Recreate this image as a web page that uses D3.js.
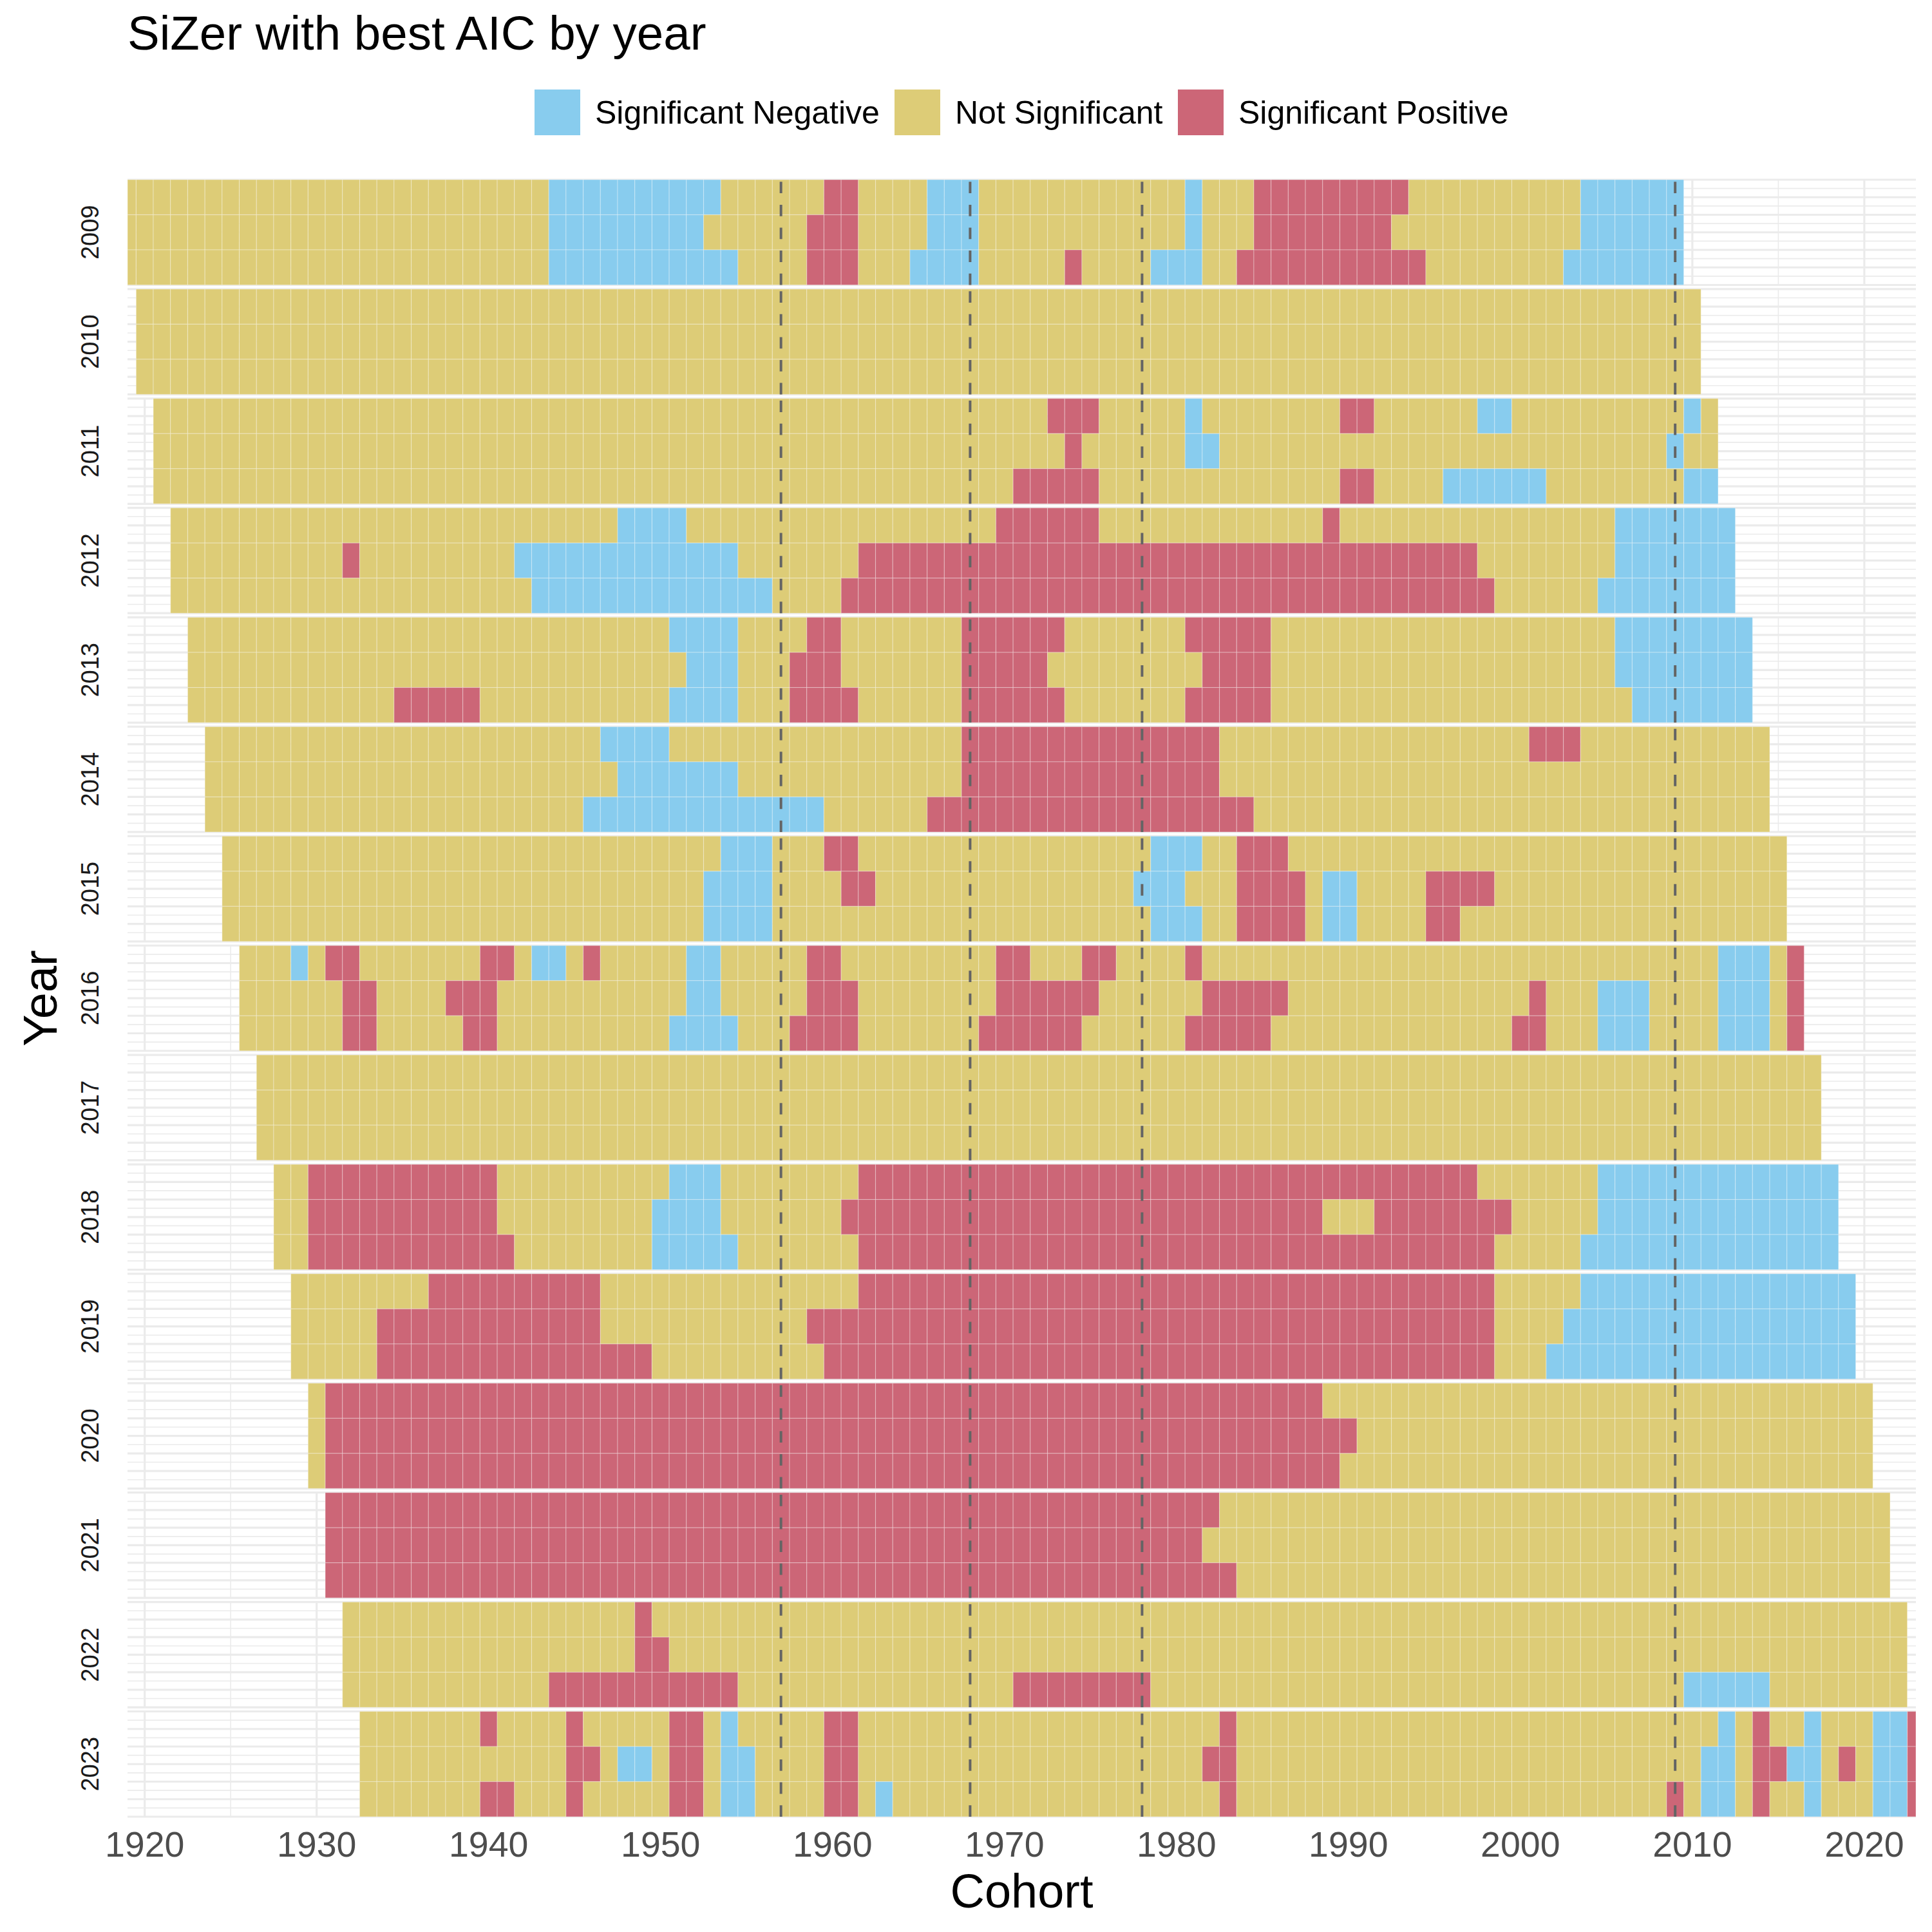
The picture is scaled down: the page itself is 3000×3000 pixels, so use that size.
<!DOCTYPE html>
<html>
<head>
<meta charset="utf-8">
<script src="https://cdn.jsdelivr.net/npm/d3@7"></script>
<style>
  body { margin: 0; background: #ffffff; }
  svg text { font-family: "Liberation Sans", Arial, Helvetica, sans-serif; }
</style>
</head>
<body>
<svg id="chart" width="3000" height="3000" xmlns="http://www.w3.org/2000/svg"></svg>
<script>
// ---------------- DATA ----------------
const years = [2009, 2010, 2011, 2012, 2013, 2014, 2015, 2016, 2017, 2018, 2019, 2020, 2021, 2022, 2023];
const cohortSpan = 90;                 // each year covers cohorts (year-90) .. year
const cohortDomain = [1919, 2023];
const xTicks = [1920, 1930, 1940, 1950, 1960, 1970, 1980, 1990, 2000, 2010, 2020];
const markerCohorts = [1957, 1968, 1978, 2009];

const statusCodes  = ["n", "o", "p"];
const statusLabels = ["Significant Negative", "Not Significant", "Significant Positive"];
const statusColors = ["#88CCEE", "#DDCC77", "#CC6677"];

// Each row: runs "code+lastCohort" (n = negative, o = not significant, p = positive),
// starting at cohort year-90; rows listed top to bottom.
const sizer2009 = [
  "o1943 n1953 o1959 p1961 o1965 n1968 o1980 n1981 o1984 p1993 o2003 n2009",
  "o1943 n1952 o1958 p1961 o1965 n1968 o1980 n1981 o1984 p1992 o2003 n2009",
  "o1943 n1954 o1958 p1961 o1964 n1968 o1973 p1974 o1978 n1981 o1983 p1994 o2002 n2009"
];
const sizer2010 = ["o2010", "o2010", "o2010"];
const sizer2011 = [
  "o1972 p1975 o1980 n1981 o1989 p1991 o1997 n1999 o2009 n2010 o2011",
  "o1973 p1974 o1980 n1982 o2008 n2009 o2011",
  "o1970 p1975 o1989 p1991 o1995 n2001 o2009 n2011"
];
const sizer2012 = [
  "o1947 n1951 o1969 p1975 o1988 p1989 o2005 n2012",
  "o1931 p1932 o1941 n1954 o1961 p1997 o2005 n2012",
  "o1942 n1956 o1960 p1998 o2004 n2012"
];
const sizer2013 = [
  "o1950 n1954 o1958 p1960 o1967 p1973 o1980 p1985 o2005 n2013",
  "o1951 n1954 o1957 p1960 o1967 p1972 o1981 p1985 o2005 n2013",
  "o1934 p1939 o1950 n1954 o1957 p1961 o1967 p1973 o1980 p1985 o2006 n2013"
];
const sizer2014 = [
  "o1946 n1950 o1967 p1982 o2000 p2003 o2014",
  "o1947 n1954 o1967 p1982 o2014",
  "o1945 n1959 o1965 p1984 o2014"
];
const sizer2015 = [
  "o1953 n1956 o1959 p1961 o1978 n1981 o1983 p1986 o2015",
  "o1952 n1956 o1960 p1962 o1977 n1980 o1983 p1987 o1988 n1990 o1994 p1998 o2015",
  "o1952 n1956 o1978 n1981 o1983 p1987 o1988 n1990 o1994 p1996 o2015"
];
const sizer2016 = [
  "o1928 n1929 o1930 p1932 o1939 p1941 o1942 n1944 o1945 p1946 o1951 n1953 o1958 p1960 o1969 p1971 o1974 p1976 o1980 p1981 o2011 n2014 o2015 p2016",
  "o1931 p1933 o1937 p1940 o1951 n1953 o1958 p1961 o1969 p1975 o1981 p1986 o2000 p2001 o2004 n2007 o2011 n2014 o2015 p2016",
  "o1931 p1933 o1938 p1940 o1950 n1954 o1957 p1961 o1968 p1974 o1980 p1985 o1999 p2001 o2004 n2007 o2011 n2014 o2015 p2016"
];
const sizer2017 = ["o2017", "o2017", "o2017"];
const sizer2018 = [
  "o1929 p1940 o1950 n1953 o1961 p1997 o2004 n2018",
  "o1929 p1940 o1949 n1953 o1960 p1988 o1991 p1999 o2004 n2018",
  "o1929 p1941 o1949 n1954 o1961 p1998 o2003 n2018"
];
const sizer2019 = [
  "o1936 p1946 o1961 p1998 o2003 n2019",
  "o1933 p1946 o1958 p1998 o2002 n2019",
  "o1933 p1949 o1959 p1998 o2001 n2019"
];
const sizer2020 = [
  "o1930 p1988 o2020",
  "o1930 p1990 o2020",
  "o1930 p1989 o2020"
];
const sizer2021 = [
  "p1982 o2021",
  "p1981 o2021",
  "p1983 o2021"
];
const sizer2022 = [
  "o1948 p1949 o2022",
  "o1948 p1950 o2022",
  "o1943 p1954 o1970 p1978 o2009 n2014 o2022"
];
const sizer2023 = [
  "o1939 p1940 o1944 p1945 o1950 p1952 o1953 n1954 o1959 p1961 o1982 p1983 o2011 n2012 o2013 p2014 o2016 n2017 o2020 n2022 p2023",
  "o1944 p1946 o1947 n1949 o1950 p1952 o1953 n1955 o1959 p1961 o1981 p1983 o2010 n2012 o2013 p2015 n2017 o2018 p2019 o2020 n2022 p2023",
  "o1939 p1941 o1944 p1945 o1950 p1952 o1953 n1955 o1959 p1961 o1962 n1963 o1982 p1983 o2008 p2009 o2010 n2012 o2013 p2014 o2016 n2017 o2020 n2022 p2023"
];
const sizerRows = [sizer2009, sizer2010, sizer2011, sizer2012, sizer2013, sizer2014, sizer2015,
  sizer2016, sizer2017, sizer2018, sizer2019, sizer2020, sizer2021, sizer2022, sizer2023];

// ---------------- decode runs into one record per tile ----------------
const tiles = [];
years.forEach((yr, yi) => {
  sizerRows[yi].forEach((rowStr, ri) => {
    let c = yr - cohortSpan;
    rowStr.trim().split(/\s+/).forEach(tok => {
      const code = tok[0], last = +tok.slice(1);
      for (; c <= last; c++) tiles.push({ year: yr, row: ri, cohort: c, status: code });
    });
  });
});

// ---------------- LAYOUT ----------------
const svg = d3.select("#chart");
svg.append("rect").attr("width", 3000).attr("height", 3000).attr("fill", "#ffffff");

const font = "'Liberation Sans', Arial, Helvetica, sans-serif";
const x = d3.scaleLinear().domain(cohortDomain).range([198, 2975]);
const facetY = d3.scaleBand().domain(years).range([279, 2821]).paddingInner(0.0377);
const rowY = d3.scaleBand().domain([0, 1, 2]).range([0, facetY.bandwidth()]);
const color = d3.scaleOrdinal().domain(statusCodes).range(statusColors);
const label = d3.scaleOrdinal().domain(statusCodes).range(statusLabels);

const gridColor = "#ebebeb";
const xMinor = d3.range(1925, 2023, 10);

const panels = svg.append("g").selectAll("g.panel")
  .data(years).join("g")
  .attr("class", "panel")
  .attr("transform", d => `translate(0,${facetY(d)})`);

const h = facetY.bandwidth();
const hMajor = d3.range(0, 7).map(k => k * h / 6);
const hMinor = d3.range(0, 6).map(k => (k + 0.5) * h / 6);

// gridlines
panels.each(function () {
  const g = d3.select(this);
  g.selectAll("line.hmin").data(hMinor).join("line")
    .attr("x1", x.range()[0]).attr("x2", x.range()[1])
    .attr("y1", d => d).attr("y2", d => d)
    .attr("stroke", gridColor).attr("stroke-width", 1.6);
  g.selectAll("line.hmaj").data(hMajor).join("line")
    .attr("x1", x.range()[0]).attr("x2", x.range()[1])
    .attr("y1", d => d).attr("y2", d => d)
    .attr("stroke", gridColor).attr("stroke-width", 3.2);
  g.selectAll("line.vmin").data(xMinor).join("line")
    .attr("x1", d => x(d)).attr("x2", d => x(d))
    .attr("y1", 0).attr("y2", h)
    .attr("stroke", gridColor).attr("stroke-width", 1.6);
  g.selectAll("line.vmaj").data(xTicks).join("line")
    .attr("x1", d => x(d)).attr("x2", d => x(d))
    .attr("y1", 0).attr("y2", h)
    .attr("stroke", gridColor).attr("stroke-width", 3.2);
});

// tiles
panels.each(function (yr) {
  const g = d3.select(this);
  const lo = cohortDomain[0], hi = cohortDomain[1];
  g.selectAll("rect.tile").data(tiles.filter(t => t.year === yr)).join("rect")
    .attr("class", "tile")
    .attr("x", d => x(Math.max(d.cohort - 0.5, lo)))
    .attr("width", d => x(Math.min(d.cohort + 0.5, hi)) - x(Math.max(d.cohort - 0.5, lo)))
    .attr("y", d => rowY(d.row))
    .attr("height", rowY.bandwidth())
    .attr("fill", d => color(d.status))
    .attr("stroke", "rgba(255,255,255,0.3)")
    .attr("stroke-width", 1.2);
});

// dashed reference lines (drawn from the bottom of each panel)
panels.each(function () {
  const g = d3.select(this);
  g.selectAll("line.ref").data(markerCohorts).join("line")
    .attr("x1", d => x(d)).attr("x2", d => x(d))
    .attr("y1", h).attr("y2", 0)
    .attr("stroke", "#646464").attr("stroke-width", 4)
    .attr("stroke-dasharray", "17.8,17.8");
});

// strip labels (left, rotated)
svg.append("g").selectAll("text").data(years).join("text")
  .attr("transform", d => `translate(153,${facetY(d) + h / 2}) rotate(-90)`)
  .attr("text-anchor", "middle")
  .attr("font-family", font).attr("font-size", 38).attr("fill", "#1a1a1a")
  .text(d => d);

// x axis labels
svg.append("g").selectAll("text").data(xTicks).join("text")
  .attr("x", d => x(d)).attr("y", 2883)
  .attr("text-anchor", "middle")
  .attr("font-family", font).attr("font-size", 55.5).attr("fill", "#4d4d4d")
  .text(d => d);

// axis titles
svg.append("text")
  .attr("x", (x.range()[0] + x.range()[1]) / 2).attr("y", 2962)
  .attr("text-anchor", "middle")
  .attr("font-family", font).attr("font-size", 74).attr("fill", "#000")
  .text("Cohort");
svg.append("text")
  .attr("transform", `translate(88,${(279 + 2821) / 2}) rotate(-90)`)
  .attr("text-anchor", "middle")
  .attr("font-family", font).attr("font-size", 74).attr("fill", "#000")
  .text("Year");

// title
svg.append("text")
  .attr("x", 198).attr("y", 77)
  .attr("font-family", font).attr("font-size", 74.5).attr("fill", "#000")
  .text("SiZer with best AIC by year");

// legend
const legendX = [830, 1389, 1829];
const legend = svg.append("g").selectAll("g").data(statusCodes).join("g")
  .attr("transform", (d, i) => `translate(${legendX[i]},139)`);
legend.append("rect")
  .attr("width", 71).attr("height", 71)
  .attr("fill", d => color(d));
legend.append("text")
  .attr("x", 94).attr("y", 53)
  .attr("font-family", font).attr("font-size", 50).attr("fill", "#000")
  .text(d => label(d));
</script>
</body>
</html>
